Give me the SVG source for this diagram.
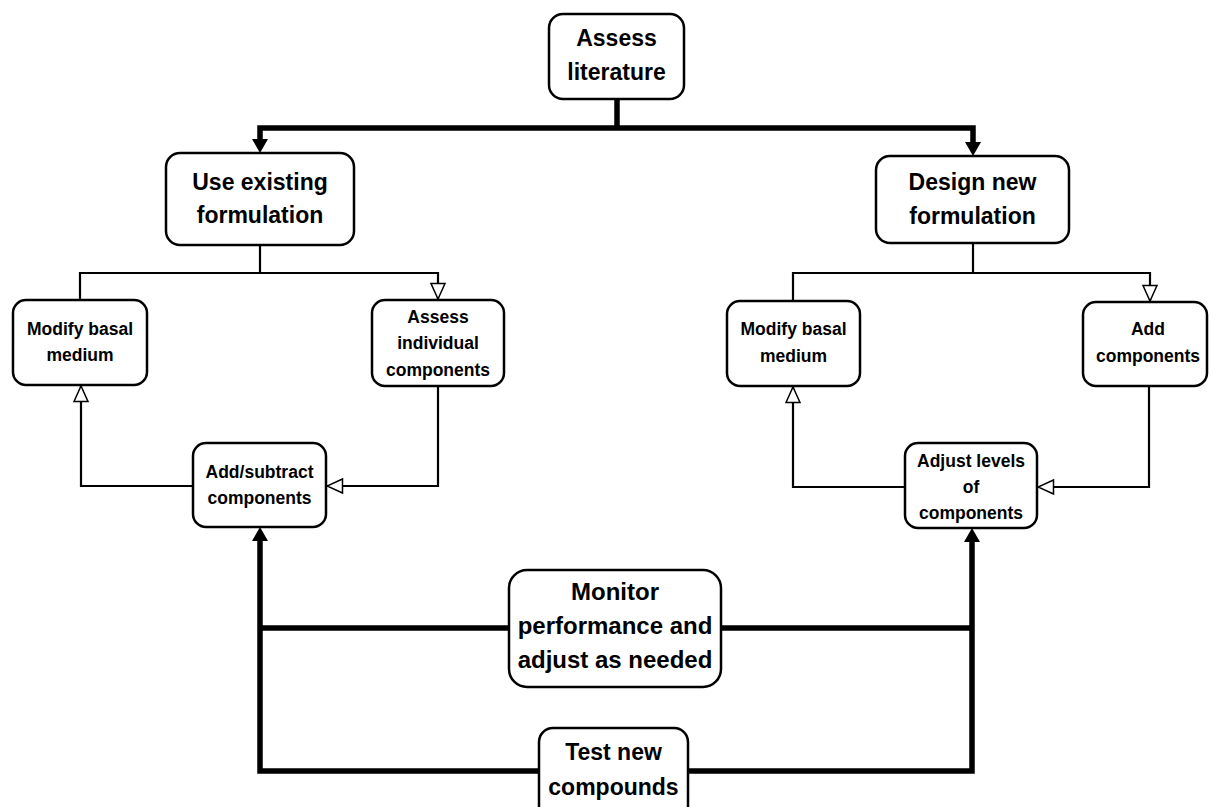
<svg xmlns="http://www.w3.org/2000/svg" width="1209" height="807" viewBox="0 0 1209 807">
<style>
.box{fill:#fff;stroke:#000;stroke-width:2.5}
.t{font-family:"Liberation Sans",Arial,Helvetica,sans-serif;font-weight:bold;text-anchor:middle;fill:#000}
.big{font-size:23px}
.mid{font-size:24px}
.sm{font-size:17.5px}
.thick{fill:none;stroke:#000;stroke-width:5.5;stroke-linejoin:miter}
.thin{fill:none;stroke:#000;stroke-width:2.2}
.head{fill:#000;stroke:none}
</style>
<defs>
<marker id="hollow" markerUnits="userSpaceOnUse" markerWidth="18" markerHeight="18" viewBox="0 0 18 18" refX="17" refY="9" orient="auto">
<path d="M1.5,2 L17,9 L1.5,16 Z" fill="#fff" stroke="#000" stroke-width="1.5"/>
</marker>
</defs>
<rect width="1209" height="807" fill="#fff"/>
<g id="connectors">
<path class="thick" d="M617,99 V128"/>
<path class="thick" d="M617,128 H260 V141"/>
<polygon class="head" points="252,139 268,139 260,153"/>
<path class="thick" d="M617,128 H973 V144"/>
<polygon class="head" points="965,142 981,142 973,156"/>
<path class="thin" d="M260,245 V273 H80 V300"/>
<path class="thin" d="M260,273 H438 V299" marker-end="url(#hollow)"/>
<path class="thin" d="M973,243 V273 H793 V301"/>
<path class="thin" d="M973,273 H1150 V301" marker-end="url(#hollow)"/>
<path class="thin" d="M193,486 H81 V386" marker-end="url(#hollow)"/>
<path class="thin" d="M438,386 V486 H327" marker-end="url(#hollow)"/>
<path class="thin" d="M905,487 H793 V387" marker-end="url(#hollow)"/>
<path class="thin" d="M1149,386 V487 H1038" marker-end="url(#hollow)"/>
<path class="thick" d="M509,628 H260"/>
<path class="thick" d="M721,628 H972"/>
<path class="thick" d="M539,771 H260 V538"/>
<polygon class="head" points="252,541 268,541 260,527"/>
<path class="thick" d="M688,771 H972 V539"/>
<polygon class="head" points="964,542 980,542 972,528"/>
</g>
<g id="assess-literature">
<rect class="box" x="549" y="14" width="135" height="85" rx="14"/>
<text class="t big" x="616.5" y="46">Assess</text>
<text class="t big" x="616.5" y="80">literature</text>
</g>
<g id="use-existing">
<rect class="box" x="166" y="153" width="188" height="92" rx="14"/>
<text class="t big" x="260" y="190">Use existing</text>
<text class="t big" x="260" y="223">formulation</text>
</g>
<g id="design-new">
<rect class="box" x="876" y="156" width="193" height="87" rx="14"/>
<text class="t big" x="972.5" y="190">Design new</text>
<text class="t big" x="972.5" y="224">formulation</text>
</g>
<g id="modify-basal-left">
<rect class="box" x="13" y="300" width="134" height="85" rx="13"/>
<text class="t sm" x="80" y="335">Modify basal</text>
<text class="t sm" x="80" y="361">medium</text>
</g>
<g id="assess-individual">
<rect class="box" x="372" y="300" width="132" height="86" rx="13"/>
<text class="t sm" x="438" y="323">Assess</text>
<text class="t sm" x="438" y="349">individual</text>
<text class="t sm" x="438" y="376">components</text>
</g>
<g id="modify-basal-right">
<rect class="box" x="727" y="301" width="133" height="85" rx="13"/>
<text class="t sm" x="793.5" y="335">Modify basal</text>
<text class="t sm" x="793.5" y="362">medium</text>
</g>
<g id="add-components">
<rect class="box" x="1083" y="302" width="124" height="84" rx="13"/>
<text class="t sm" x="1148" y="335">Add</text>
<text class="t sm" x="1148" y="362">components</text>
</g>
<g id="add-subtract">
<rect class="box" x="193" y="443" width="133" height="84" rx="13"/>
<text class="t sm" x="259.5" y="478">Add/subtract</text>
<text class="t sm" x="259.5" y="504">components</text>
</g>
<g id="adjust-levels">
<rect class="box" x="905" y="443" width="132" height="85" rx="13"/>
<text class="t sm" x="971" y="467">Adjust levels</text>
<text class="t sm" x="971" y="493">of</text>
<text class="t sm" x="971" y="519">components</text>
</g>
<g id="monitor">
<rect class="box" x="509" y="570" width="212" height="117" rx="18"/>
<text class="t mid" x="615" y="600">Monitor</text>
<text class="t mid" x="615" y="634">performance and</text>
<text class="t mid" x="615" y="668">adjust as needed</text>
</g>
<g id="test-new">
<rect class="box" x="539" y="728" width="149" height="92" rx="14"/>
<text class="t big" x="613.5" y="760">Test new</text>
<text class="t big" x="613.5" y="795">compounds</text>
</g>
</svg>
